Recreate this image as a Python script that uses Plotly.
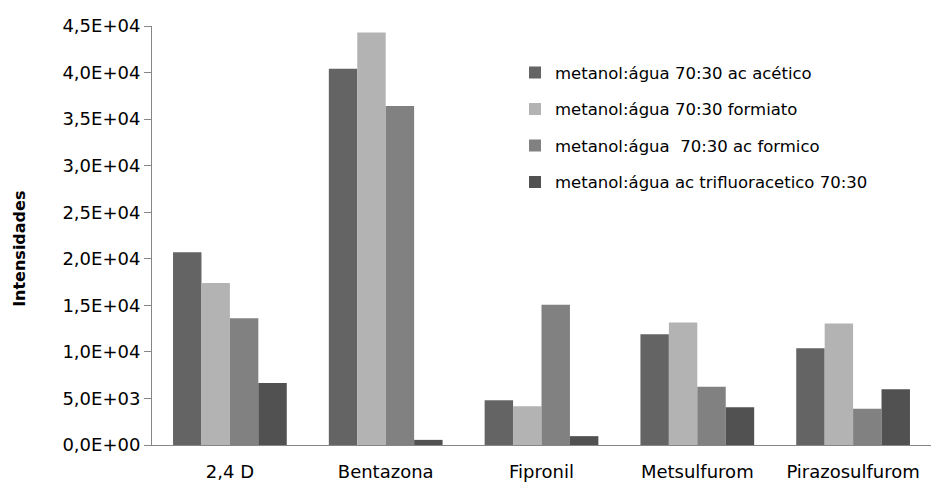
import plotly.graph_objects as go

# Compounds on the x axis
compounds = ["2,4 D", "Bentazona", "Fipronil", "Metsulfurom", "Pirazosulfurom"]

# Mobile phase series (intensities)
acetico = [20700, 40400, 4800, 11900, 10400]
formiato = [17400, 44300, 4150, 13150, 13050]
formico = [13600, 36400, 15050, 6250, 3900]
trifluoracetico = [6650, 550, 950, 4050, 6000]

series_names = [
    "metanol:água 70:30 ac acético",
    "metanol:água 70:30 formiato",
    "metanol:água  70:30 ac formico",
    "metanol:água ac trifluoracetico 70:30",
]
series_values = [acetico, formiato, formico, trifluoracetico]
series_colors = ["#646464", "#b3b3b3", "#818181", "#515151"]

y_ticks = [0, 5000, 10000, 15000, 20000, 25000, 30000, 35000, 40000, 45000]
y_tick_labels = ["0,0E+00", "5,0E+03", "1,0E+04", "1,5E+04", "2,0E+04",
                 "2,5E+04", "3,0E+04", "3,5E+04", "4,0E+04", "4,5E+04"]

FONT = "DejaVu Sans"

fig = go.Figure()
for i, (name, vals, col) in enumerate(zip(series_names, series_values, series_colors)):
    fig.add_trace(go.Bar(
        x=compounds, y=vals, name=name,
        marker=dict(color=col, line=dict(width=0)),
        legendgroup=f"g{i}",
    ))

# Rotated y-axis title placed to the left of the tick labels
fig.add_annotation(
    text="<b>Intensidades</b>", textangle=-90,
    xref="paper", yref="paper", x=-0.1695, y=0.468,
    xanchor="center", yanchor="middle", showarrow=False,
    font=dict(family=FONT, size=16, color="#000000"),
)

fig.update_layout(
    width=931, height=484,
    margin=dict(l=152, r=0, t=26, b=39),
    paper_bgcolor="white", plot_bgcolor="white",
    barmode="group", bargap=0.27, bargroupgap=0,
    font=dict(family=FONT, size=16, color="#000000"),
    showlegend=True,
    legend=dict(
        x=0.466, y=0.93, xanchor="left", yanchor="top",
        font=dict(family=FONT, size=16.5, color="#000000"),
        tracegroupgap=12, itemwidth=30,
        bgcolor="rgba(0,0,0,0)",
    ),
    xaxis=dict(
        showline=True, linecolor="#868686", linewidth=1,
        ticks="", showgrid=False, zeroline=False,
        ticklabelstandoff=10,
        tickfont=dict(family=FONT, size=18),
    ),
    yaxis=dict(
        range=[0, 45000], tickvals=y_ticks, ticktext=y_tick_labels,
        showline=True, linecolor="#868686", linewidth=1,
        ticks="outside", ticklen=7, tickcolor="#868686",
        showgrid=False, zeroline=False,
        tickfont=dict(family=FONT, size=18),
    ),
)

fig.write_html("out.html")
